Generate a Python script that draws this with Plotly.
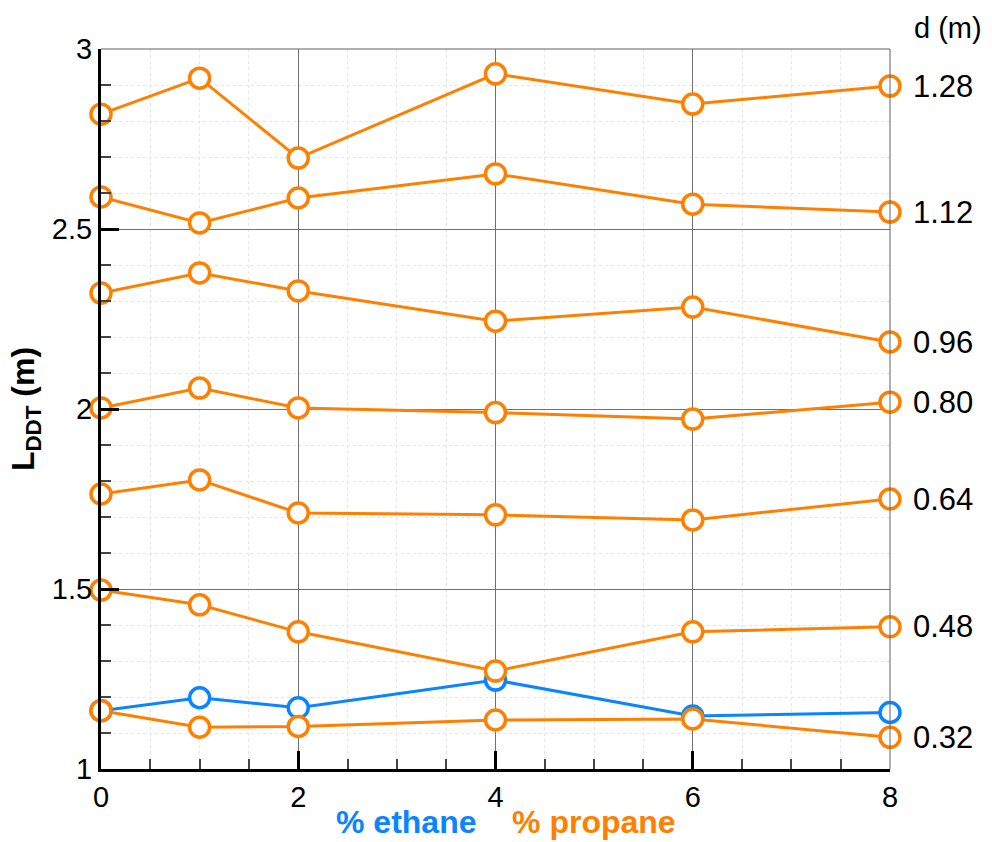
import plotly.graph_objects as go

# ---- data ----
pct = [0, 1, 2, 4, 6, 8]
ethane_d032 = [1.162, 1.198, 1.170, 1.247, 1.147, 1.157]
propane_d032 = [1.162, 1.116, 1.118, 1.136, 1.139, 1.088]
propane_d048 = [1.497, 1.456, 1.381, 1.272, 1.381, 1.395]
propane_d064 = [1.764, 1.803, 1.711, 1.706, 1.692, 1.750]
propane_d080 = [2.003, 2.058, 2.003, 1.990, 1.972, 2.019]
propane_d096 = [2.322, 2.378, 2.328, 2.244, 2.283, 2.186]
propane_d112 = [2.589, 2.517, 2.586, 2.653, 2.569, 2.547]
propane_d128 = [2.819, 2.919, 2.697, 2.931, 2.847, 2.897]
d_labels = ["0.32", "0.48", "0.64", "0.80", "0.96", "1.12", "1.28"]
x_ticks = [0, 2, 4, 6, 8]
y_ticks = [1, 1.5, 2, 2.5, 3]
y_ticktext = ["1", "1.5", "2", "2.5", "3"]

BLUE = "#0a84ff"
ORANGE = "#ff8000"
FONT = "Liberation Sans, Arial, sans-serif"

propane = [propane_d032, propane_d048, propane_d064, propane_d080,
           propane_d096, propane_d112, propane_d128]

fig = go.Figure()

def add_series(y, color):
    fig.add_trace(go.Scatter(
        x=pct, y=y, mode="lines+markers", cliponaxis=False,
        line=dict(color=color, width=3),
        marker=dict(symbol="circle", size=20, color="white",
                    line=dict(color=color, width=3.5)),
        showlegend=False, hoverinfo="skip"))

add_series(ethane_d032, BLUE)
for s in propane:
    add_series(s, ORANGE)

# right-hand d labels at the last point of each propane series
for lab, s in zip(d_labels, propane):
    fig.add_annotation(x=pct[-1], y=s[-1], xref="x", yref="y", text=lab,
                       showarrow=False, xanchor="left", yanchor="middle",
                       xshift=21, font=dict(family=FONT, size=31, color="black"))
fig.add_annotation(x=1, y=1.029, xref="paper", yref="paper", text="d (m)",
                   showarrow=False, xanchor="left", yanchor="middle", xshift=22,
                   font=dict(family=FONT, size=29, color="black"))

# x-axis title in two colours
fig.add_annotation(x=0.513, y=-0.074, xref="paper", yref="paper",
                   text="<b><span style='color:%s'>%% ethane</span>"
                        "&nbsp;&nbsp;&nbsp;&nbsp;<span style='color:%s'>%% propane</span></b>" % (BLUE, ORANGE),
                   showarrow=False, xanchor="center", yanchor="middle",
                   font=dict(family=FONT, size=32))

# top and right frame (thin gray)
fig.add_shape(type="line", xref="paper", yref="paper", x0=0, x1=1, y0=1, y1=1,
              line=dict(color="#606060", width=1))
fig.add_shape(type="line", xref="paper", yref="paper", x0=1, x1=1, y0=0, y1=1,
              line=dict(color="#606060", width=1))

fig.update_xaxes(
    range=[0, 8], tickvals=x_ticks, ticktext=[str(v) for v in x_ticks],
    showline=True, linecolor="black", linewidth=3,
    ticks="inside", ticklen=18, tickwidth=3, tickcolor="black",
    showgrid=True, gridcolor="#707070", gridwidth=1, zeroline=False,
    tickfont=dict(family=FONT, size=29, color="black"),
    minor=dict(dtick=0.5, ticks="inside", ticklen=10, tickwidth=1.5,
               tickcolor="#444", showgrid=True, gridcolor="#e6e6e6",
               griddash="dot", gridwidth=1),
)
fig.update_yaxes(
    range=[1, 3], tickvals=y_ticks, ticktext=y_ticktext,
    showline=True, linecolor="black", linewidth=3,
    ticks="inside", ticklen=18, tickwidth=3, tickcolor="black",
    showgrid=True, gridcolor="#707070", gridwidth=1, zeroline=False,
    tickfont=dict(family=FONT, size=29, color="black"),
    minor=dict(dtick=0.1, ticks="inside", ticklen=10, tickwidth=1.5,
               tickcolor="#444", showgrid=True, gridcolor="#e6e6e6",
               griddash="dot", gridwidth=1),
    title=dict(text="<b>L<sub>DDT</sub> (m)</b>",
               font=dict(family=FONT, size=32, color="black"), standoff=8),
)

fig.update_layout(
    width=992, height=842,
    margin=dict(l=101, r=102, t=49, b=73),
    plot_bgcolor="white", paper_bgcolor="white",
    font=dict(family=FONT, color="black"),
)

fig.write_html("out.html")
